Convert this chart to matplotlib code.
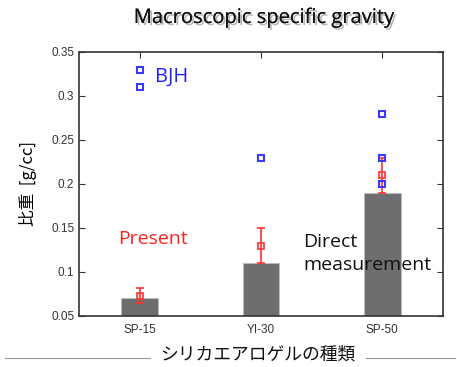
import matplotlib
matplotlib.use("Agg")
import matplotlib.pyplot as plt
import matplotlib.patheffects as pe

plt.rcParams['font.family'] = ['Liberation Sans', 'Noto Sans CJK JP', 'DejaVu Sans']

categories = ["SP-15", "YI-30", "SP-50"]
direct = [0.07, 0.11, 0.19]           # bars: direct measurement
present = [0.073, 0.13, 0.21]         # red squares
present_lo = [0.065, 0.11, 0.19]
present_hi = [0.082, 0.15, 0.23]
bjh_x = [0, 0, 1, 2, 2, 2]
bjh_y = [0.33, 0.31, 0.23, 0.28, 0.23, 0.20]

fig = plt.figure(figsize=(4.57, 3.67), dpi=100)
ax = fig.add_axes([79/457, 1-316/367, 364/457, 264/367])

x = list(range(len(categories)))
ax.bar(x, [d - 0.05 for d in direct], bottom=0.05, width=0.3,
       color="#6e6e6e", edgecolor="#bdbdbd", linewidth=0.6, zorder=2)

yerr = [[p - l for p, l in zip(present, present_lo)],
        [h - p for p, h in zip(present, present_hi)]]
ax.errorbar(x, present, yerr=yerr, fmt="s", mfc="none", mec="#ff3030",
            ecolor="#ff3030", ms=5, mew=1.2, elinewidth=1.2, capsize=3, zorder=4)
ax.plot(bjh_x, bjh_y, "s", mfc="none", mec="#3a3aff", ms=4.5, mew=1.5,
        linestyle="none", zorder=5)

ax.set_xlim(-0.5, 2.5)
ax.set_ylim(0.05, 0.35)
ax.set_xticks(x)
ax.set_xticklabels(categories)
ax.set_yticks([0.05, 0.1, 0.15, 0.2, 0.25, 0.3, 0.35])
ax.set_yticklabels(["0.05", "0.1", "0.15", "0.2", "0.25", "0.3", "0.35"])
ax.tick_params(direction="in", top=True, right=True, length=4,
               labelsize=8.5, labelcolor="#333333", color="#333333")
ax.tick_params(axis="x", top=True, bottom=False, pad=6)
for s in ax.spines.values():
    s.set_color("#333333")
    s.set_linewidth(1.2)

ax.set_ylabel("比重  [g/cc]", fontsize=12, family=['Noto Sans CJK JP'], labelpad=10)

ax.text(-0.175, 0.137, "Present", fontsize=14, color="#ff2020",
        family=["Open Sans"], va="center")
ax.text(0.13, 0.322, "BJH", fontsize=14.5, color="#2020ff", family=["Open Sans"],
        va="center")
ax.text(1.35, 0.121, "Direct\nmeasurement", fontsize=14, color="#111111",
        family=["Open Sans"], va="center", linespacing=1.3)

fig.text(264/457, 1-18/367, "Macroscopic specific gravity", ha="center", va="center",
         fontsize=14.5, family=["Open Sans"], color="#111111",
         path_effects=[pe.withSimplePatchShadow(offset=(1.5, -1.5), alpha=0.3), pe.Normal()])

fig.text(258/457, 1-355/367, "シリカエアロゲルの種類", ha="center", va="center",
         fontsize=12.8, family=["Noto Sans CJK JP"], color="#111111")
fig.add_artist(plt.Line2D([5/457, 150/457], [1-358/367, 1-358/367], color="#999999", lw=0.8))
fig.add_artist(plt.Line2D([366/457, 455/457], [1-358/367, 1-358/367], color="#999999", lw=0.8))

fig.savefig("out.png", dpi=100)
